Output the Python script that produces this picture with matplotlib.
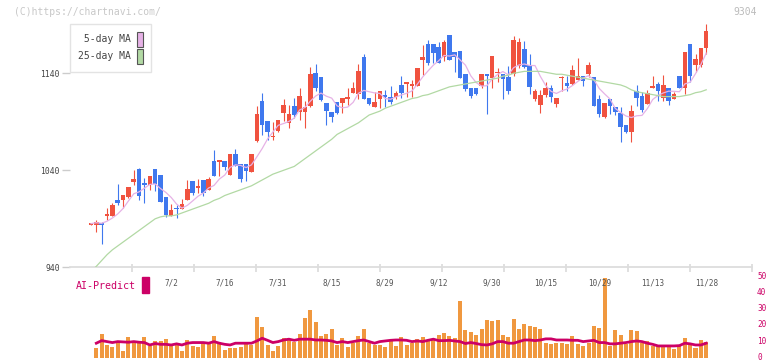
import numpy as np
import pandas as pd
import matplotlib
matplotlib.use("Agg")
import matplotlib.pyplot as plt
import matplotlib.transforms as mtransforms
from matplotlib.patches import Patch, Rectangle

# =============================================================================
# Dados
# =============================================================================

feriados = ["2025-07-21", "2025-08-11", "2025-09-15", "2025-09-23",
            "2025-10-13", "2025-11-03", "2025-11-24"]
datas = pd.bdate_range("2025-06-11", "2025-11-28")
datas = datas[~datas.isin(pd.to_datetime(feriados))]

rotulos_datas = ["7/2", "7/16", "7/31", "8/15", "8/29", "9/12",
                 "9/30", "10/15", "10/29", "11/13", "11/28"]

abertura = [984, 984, 985, 993, 993, 1009, 1009, 1012, 1028, 1041,
            1027, 1025, 1041, 1035, 1012, 993, 1001, 1000, 1009, 1029,
            1022, 1030, 1020, 1050, 1049, 1050, 1035, 1057, 1046, 1047,
            1038, 1070, 1111, 1091, 1074, 1081, 1099, 1089, 1106, 1100,
            1100, 1106, 1140, 1136, 1109, 1100, 1110, 1109, 1114, 1120,
            1119, 1157, 1115, 1105, 1114, 1118, 1116, 1116, 1128, 1129,
            1127, 1127, 1154, 1170, 1170, 1167, 1157, 1180, 1162, 1163,
            1139, 1125, 1125, 1127, 1139, 1135, 1140, 1139, 1136, 1139,
            1148, 1165, 1149, 1114, 1107, 1118, 1125, 1108, 1135, 1130,
            1129, 1133, 1137, 1139, 1136, 1114, 1095, 1114, 1105, 1099,
            1087, 1080, 1122, 1117, 1108, 1125, 1129, 1115, 1125, 1114,
            1137, 1125, 1170, 1149, 1149, 1166]
maxima = [985, 989, 987, 1001, 1006, 1026, 1015, 1023, 1040, 1042,
          1032, 1034, 1041, 1035, 1012, 1005, 1004, 1010, 1030, 1029,
          1031, 1030, 1033, 1061, 1050, 1050, 1057, 1062, 1046, 1047,
          1057, 1106, 1120, 1091, 1090, 1092, 1113, 1107, 1115, 1125,
          1111, 1147, 1150, 1136, 1109, 1100, 1110, 1115, 1125, 1131,
          1150, 1160, 1115, 1121, 1122, 1123, 1127, 1122, 1137, 1131,
          1133, 1145, 1169, 1174, 1170, 1172, 1174, 1180, 1162, 1163,
          1139, 1125, 1125, 1139, 1139, 1158, 1145, 1139, 1148, 1178,
          1176, 1173, 1160, 1124, 1123, 1131, 1128, 1115, 1137, 1137,
          1149, 1156, 1137, 1152, 1136, 1118, 1109, 1114, 1105, 1105,
          1087, 1107, 1128, 1121, 1123, 1137, 1131, 1138, 1125, 1121,
          1137, 1162, 1170, 1160, 1166, 1191]
minima = [984, 976, 964, 989, 993, 1004, 1001, 1011, 1025, 1009,
          1006, 1020, 1019, 1007, 992, 993, 991, 1000, 1009, 1015,
          1017, 1014, 1020, 1034, 1034, 1040, 1035, 1044, 1028, 1029,
          1038, 1069, 1076, 1071, 1071, 1080, 1091, 1084, 1094, 1092,
          1084, 1105, 1122, 1111, 1087, 1090, 1098, 1099, 1107, 1120,
          1114, 1113, 1107, 1105, 1104, 1105, 1108, 1114, 1115, 1116,
          1116, 1127, 1138, 1149, 1151, 1151, 1153, 1154, 1141, 1135,
          1122, 1115, 1118, 1125, 1098, 1125, 1131, 1114, 1119, 1137,
          1145, 1145, 1119, 1111, 1099, 1116, 1110, 1105, 1122, 1122,
          1128, 1133, 1127, 1136, 1106, 1095, 1094, 1098, 1097, 1069,
          1078, 1069, 1106, 1100, 1108, 1125, 1111, 1111, 1107, 1113,
          1125, 1119, 1131, 1141, 1147, 1160]
fecho = [985, 987, 984, 994, 1004, 1006, 1015, 1023, 1031, 1014,
         1025, 1034, 1026, 1007, 994, 999, 1000, 1005, 1021, 1017,
         1023, 1017, 1031, 1034, 1050, 1043, 1057, 1044, 1031, 1039,
         1057, 1098, 1087, 1080, 1075, 1092, 1107, 1098, 1097, 1117,
         1105, 1139, 1125, 1112, 1101, 1095, 1099, 1115, 1116, 1125,
         1142, 1114, 1108, 1110, 1122, 1116, 1110, 1120, 1120, 1131,
         1128, 1145, 1157, 1151, 1161, 1151, 1172, 1154, 1157, 1135,
         1124, 1117, 1119, 1139, 1137, 1158, 1141, 1134, 1122, 1174,
         1172, 1146, 1126, 1122, 1118, 1125, 1116, 1115, 1136, 1127,
         1143, 1137, 1132, 1149, 1106, 1098, 1109, 1106, 1100, 1085,
         1080, 1101, 1115, 1102, 1120, 1127, 1122, 1128, 1111, 1119,
         1125, 1162, 1137, 1155, 1166, 1184]

media25 = [936, 941, 947, 953, 958, 962, 966, 970, 974, 978,
           982, 986, 990, 992, 993, 993, 994, 996, 998, 1000,
           1002, 1004, 1006, 1009, 1011, 1014, 1016, 1018, 1020, 1022,
           1024, 1027, 1030, 1033, 1036, 1038, 1040, 1042, 1044, 1048,
           1052, 1056, 1060, 1064, 1068, 1072, 1077, 1080, 1083, 1086,
           1089, 1093, 1097, 1099, 1101, 1104, 1106, 1108, 1110, 1112,
           1114, 1115, 1117, 1118, 1120, 1122, 1124, 1126, 1127, 1128,
           1129, 1130, 1131, 1132, 1133, 1134, 1135, 1137, 1138, 1140,
           1141, 1142, 1142, 1142, 1142, 1141, 1140, 1139, 1139, 1138,
           1137, 1136, 1135, 1134, 1133, 1132, 1131, 1130, 1129, 1128,
           1126, 1123, 1121, 1120, 1119, 1118, 1117, 1116, 1116, 1116,
           1116, 1117, 1118, 1120, 1121, 1123]

# painel inferior (a partir do segundo dia)
volume = [6.7, 15.2, 8.3, 7.3, 9.8, 4.6, 13.3, 10.4, 9.4, 13.3,
          7.9, 10.8, 10.8, 12.1, 7.9, 8.3, 4.6, 11.4, 7.7, 7.1,
          9.8, 9.8, 13.9, 10.4, 5.2, 6.7, 6.7, 7.3, 10.0, 8.3,
          25.8, 19.6, 8.3, 4.6, 7.7, 12.5, 12.1, 10.4, 15.2, 25.2,
          30.2, 22.7, 13.9, 15.2, 18.5, 8.3, 12.7, 7.3, 9.4, 13.9,
          18.5, 9.8, 8.3, 8.3, 7.1, 10.8, 7.7,
          13.3, 8.3, 9.8, 12.1, 13.3, 11.4, 12.1, 14.6, 15.8, 13.9,
          12.7, 35.4, 17.7, 16.5, 14.6, 18.3, 24.0, 23.3, 24.0, 14.6,
          13.3, 24.6, 18.3, 21.5, 20.2, 19.6, 18.3, 9.6, 8.9, 9.6,
          9.6, 8.9, 13.9, 8.9, 7.7, 9.6, 20.2, 18.9, 50.0, 7.7,
          17.7, 14.6, 8.9, 17.7, 17.1, 9.6, 10.8, 7.7, 7.7, 7.1,
          7.1, 5.8, 8.3, 12.7, 9.6, 6.5, 11.4, 10.2]
previsao = [9.4, 11.0, 10.4, 9.8, 10.4, 10.2, 10.0, 10.4, 10.0, 9.8,
            8.3, 9.2, 8.7, 8.7, 8.3, 9.0, 8.3, 9.4, 9.8, 9.8,
            9.8, 9.4, 10.4, 9.4, 8.7, 8.3, 9.4, 9.4, 9.4, 9.4,
            10.8, 12.5, 11.2, 9.8, 10.4, 11.4, 11.9, 11.2, 11.9, 11.9,
            11.9, 11.4, 11.4, 11.2, 10.8, 9.8, 10.4, 9.8, 10.4, 11.0,
            11.4, 10.4, 9.4, 10.4, 10.8, 11.2, 11.4,
            11.4, 11.2, 10.4, 10.8, 10.4, 11.2, 11.9, 11.0, 11.0, 11.2,
            10.8, 10.4, 9.2, 9.8, 9.2, 8.5, 8.3, 9.0, 10.4, 10.4,
            9.4, 9.4, 10.4, 11.4, 11.4, 11.0, 11.4, 12.1, 12.1, 11.4,
            11.4, 11.4, 11.2, 11.2, 10.4, 10.8, 11.2, 9.8, 9.8, 9.0,
            9.0, 9.4, 9.8, 10.4, 10.8, 10.4, 9.4, 8.7, 7.7, 7.7,
            7.7, 7.7, 7.9, 9.4, 9.0, 8.3, 8.3, 9.4]

# =============================================================================
# Cores e estilo
# =============================================================================

VERMELHO = "#f0523f"
AZUL = "#3f78ee"
ROSA = "#e6b2e6"
VERDE = "#b2d9a4"
LARANJA = "#f0983f"
MAGENTA = "#cc0066"
CINZA_EIXO = "#dddddd"

plt.rcParams["font.family"] = ["DejaVu Sans Mono", "DejaVu Sans"]

W, H = 772, 361
fig = plt.figure(figsize=(W / 100, H / 100), dpi=100)

x = np.arange(len(datas))
o = np.array(abertura, float)
c = np.array(fecho, float)
cores = np.where(c >= o, VERMELHO, AZUL)
media5 = pd.Series(c).rolling(5, min_periods=1).mean()

# =============================================================================
# Painel inferior (AI-Predict) - criado primeiro, fica por baixo
# =============================================================================

axv = fig.add_axes([70 / W, 1 - 358.3 / H, 682 / W, 80.3 / H])
axv.patch.set_visible(False)
axv.bar(x[1:], volume, width=0.75, color=LARANJA)
axv.plot(x[1:], previsao, color=MAGENTA, lw=2.0)
axv.set_ylim(0, 50)
for lado in axv.spines:
    axv.spines[lado].set_visible(False)
axv.set_xticks([])
axv.yaxis.tick_right()
axv.set_yticks(range(0, 51, 10))
axv.tick_params(axis="y", length=0, pad=3.6, labelsize=5.6, labelcolor=MAGENTA)
subir = mtransforms.ScaledTranslation(0, 2.2 / 100, fig.dpi_scale_trans)
for rotulo in axv.get_yticklabels():
    rotulo.set_verticalalignment("center_baseline")
    rotulo.set_transform(rotulo.get_transform() + subir)

fig.text(76 / W, 1 - 286 / H, "AI-Predict", color=MAGENTA, fontsize=7.2, va="center")
fig.patches.append(Rectangle((142.3 / W, 1 - 292.7 / H), 6.4 / W, 16 / H,
                             transform=fig.transFigure, color=MAGENTA))

# =============================================================================
# Painel principal (velas)
# =============================================================================

ax = fig.add_axes([70 / W, 1 - 267.3 / H, 682 / W, 262.3 / H])
ax.patch.set_visible(False)
ax.vlines(x, minima, maxima, colors=cores, lw=0.8, zorder=2)
ax.bar(x, np.maximum(np.abs(c - o), 1.5), bottom=np.minimum(o, c),
       width=0.85, color=cores, zorder=3)
ax.plot(x, media5, color=ROSA, lw=0.9, zorder=4)
ax.plot(x, media25, color=VERDE, lw=0.9, zorder=4)

ax.set_xlim(-3.92, 123.56)
ax.set_ylim(940, 940 + 262.3 / 0.97)
axv.set_xlim(ax.get_xlim())

for lado in ["top", "right", "left"]:
    ax.spines[lado].set_visible(False)
ax.spines["bottom"].set_color(CINZA_EIXO)
ax.spines["bottom"].set_linewidth(1.3)

pos_rotulos = [i for i, d in enumerate(datas) if f"{d.month}/{d.day}" in rotulos_datas]
ax.set_xticks(pos_rotulos)
ax.set_xticklabels([f"{datas[i].month}/{datas[i].day}" for i in pos_rotulos])
ax.tick_params(axis="x", length=0, pad=8.0, labelsize=5.5, labelcolor="#555555")

ax.set_yticks([940, 1040, 1140])
ax.tick_params(axis="y", length=5.8, width=1, color="#cccccc", pad=1.5,
               labelsize=5.8, labelcolor="#444444")

# divisoes decorativas do eixo horizontal
ax.vlines(np.linspace(0, 1, 12)[1:], -0.019, 0.011, transform=ax.transAxes,
          colors=CINZA_EIXO, lw=1.3, clip_on=False)

legenda = [Patch(facecolor=ROSA, edgecolor="#555555", lw=0.8, label=" 5-day MA"),
           Patch(facecolor=VERDE, edgecolor="#555555", lw=0.8, label="25-day MA")]
leg = fig.legend(handles=legenda, loc="upper left", bbox_to_anchor=(70 / W, 1 - 24 / H),
                 markerfirst=False, handlelength=0.67, handleheight=2.0,
                 handletextpad=0.65, labelspacing=0.2, borderpad=0.8,
                 borderaxespad=0, fancybox=False, edgecolor=CINZA_EIXO,
                 fontsize=7, labelcolor="#444444")
leg.get_frame().set_linewidth(1.0)

# textos do topo
fig.text(14 / W, 1 - 12 / H, "(C)https://chartnavi.com/", color="#c8c8c8",
         fontsize=7, va="center")
fig.text(757 / W, 1 - 12 / H, "9304", color="#bbbbbb", fontsize=7,
         va="center", ha="right")

fig.savefig("out.png", dpi=100)
